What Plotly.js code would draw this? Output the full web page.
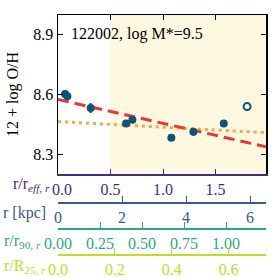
<!DOCTYPE html>
<html><head><meta charset="utf-8">
<script src="https://cdn.plot.ly/plotly-3.0.1.min.js"></script>
<style>html,body{margin:0;padding:0;background:#fff}</style>
</head><body><div id="g" style="width:277px;height:277px"></div>
<script>
// data
const rReff = [0.067, 0.089, 0.311, 0.648, 0.708, 1.079, 1.289, 1.578];
const logOH = [8.603, 8.591, 8.532, 8.454, 8.473, 8.383, 8.412, 8.454];
const logOHerr = [0.010, 0.010, 0.025, 0.010, 0.015, 0.010, 0.020, 0.010];
const openReff = [1.80];
const openOH = [8.539];
const fitX = [0, 1.98];
const fitRed = [8.575, 8.337];
const fitOrange = [8.464, 8.408];
const shadeStart = 0.5;
const titleText = "122002, log M*=9.5";
const effTicks = [0, 0.5, 1.0, 1.5];
const effTickText = ["\u20020.0", "0.5", "1.0", "1.5"];

const F = "Liberation Serif";
const cEff = "#472c7e", cKpc = "#3b5a8a", c90 = "#2aa882", c25 = "#bfdc2c";
const ptCol = "#0d5378";

const traces = [
  {x: fitX, y: fitOrange, mode: "lines", line: {color: "#f9a64a", width: 3, dash: "3px,4px"}, hoverinfo: "skip"},
  {x: fitX, y: fitRed, mode: "lines", line: {color: "#e8382f", width: 3, dash: "11px,6px"}, hoverinfo: "skip"},
  {x: rReff, y: logOH, mode: "markers", marker: {color: ptCol, size: 8},
   error_y: {type: "data", array: logOHerr, color: ptCol, thickness: 2, width: 0}},
  {x: openReff, y: openOH, mode: "markers", marker: {color: "rgba(0,0,0,0)", size: 7, line: {color: ptCol, width: 2}}}
];
// empty traces so that the secondary axes are created
["x2", "x3", "x4", "x5"].forEach(ax => traces.push({x: [], y: [], xaxis: ax, yaxis: "y", mode: "markers", hoverinfo: "skip"}));

const H = 277, T = 15, B = 0;
const ph = H - T - B;
const pos = py => (H - B - py) / ph;

const baseX = {showgrid: false, zeroline: false, showline: true, ticks: "inside", ticklen: 5, tickwidth: 1,
  tickfont: {family: F, size: 16}, fixedrange: true};

const layout = {
  width: 277, height: 277, margin: {l: 58, r: 11, t: T, b: B}, showlegend: false,
  paper_bgcolor: "#fff", plot_bgcolor: "#fff",
  font: {family: F, size: 16, color: "#000"},
  xaxis: Object.assign({}, baseX, {range: [0, 1.98], tickmode: "array", tickvals: effTicks, ticktext: effTickText,
    linecolor: cEff, linewidth: 1.5, tickcolor: cEff, tickfont: {family: F, size: 16, color: cEff}, anchor: "y"}),
  xaxis5: Object.assign({}, baseX, {range: [0, 1.98], dtick: 0.5, tick0: 0, overlaying: "x", side: "top", anchor: "y",
    linecolor: "#000", linewidth: 1.5, tickcolor: "#000", showticklabels: false}),
  xaxis2: Object.assign({}, baseX, {range: [0, 6.5], dtick: 2, tick0: 0, overlaying: "x", anchor: "free", position: pos(202),
    linecolor: cKpc, linewidth: 1.5, tickcolor: cKpc, ticklen: 6, tickfont: {family: F, size: 16, color: cKpc}}),
  xaxis3: Object.assign({}, baseX, {range: [0, 1.238], dtick: 0.25, tick0: 0, tickformat: ".2f", overlaying: "x", anchor: "free", position: pos(228),
    linecolor: c90, linewidth: 1.5, tickcolor: c90, ticklen: 6, tickfont: {family: F, size: 16, color: c90}}),
  xaxis4: Object.assign({}, baseX, {range: [0, 0.731], dtick: 0.2, tick0: 0, tickformat: ".1f", overlaying: "x", anchor: "free", position: pos(254),
    linecolor: c25, linewidth: 1.5, tickcolor: c25, ticklen: 6, tickfont: {family: F, size: 16, color: c25}}),
  yaxis: {domain: [pos(174), 1], range: [8.2, 9.0], dtick: 0.3, tick0: 8.3, tickformat: ".1f",
    showgrid: false, zeroline: false, showline: true, mirror: "ticks", linecolor: "#000", linewidth: 1.5,
    ticks: "inside", ticklen: 5, tickcolor: "#000", tickfont: {family: F, size: 16, color: "#000"}, fixedrange: true},
  shapes: [
    {type: "rect", xref: "x", yref: "y", x0: shadeStart, x1: 2.5, y0: 8.2, y1: 9.0, fillcolor: "#fef8e0", line: {width: 0}, layer: "below"}
  ],
  annotations: [
    {text: titleText, xref: "paper", yref: "paper", x: 11/208, y: pos(34), xanchor: "left", yanchor: "middle", showarrow: false,
     font: {family: F, size: 16, color: "#000"}},
    {text: "12 + log O/H", xref: "paper", yref: "paper", x: (13-58)/208, y: pos(95), xanchor: "center", yanchor: "middle",
     textangle: -90, showarrow: false, font: {family: F, size: 16, color: "#000"}},
    {text: "r/r<sub><i>eff, r</i></sub>", xref: "paper", yref: "paper", x: 0, xshift: -6, y: pos(184), xanchor: "right", yanchor: "middle",
     showarrow: false, font: {family: F, size: 16, color: cEff}},
    {text: "r [kpc]", xref: "paper", yref: "paper", x: 0, xshift: -10, y: pos(213), xanchor: "right", yanchor: "middle",
     showarrow: false, font: {family: F, size: 16, color: cKpc}},
    {text: "r/r<sub>90, <i>r</i></sub>", xref: "paper", yref: "paper", x: 0, xshift: -15, y: pos(241), xanchor: "right", yanchor: "middle",
     showarrow: false, font: {family: F, size: 16, color: c90}},
    {text: "r/R<sub>25, <i>r</i></sub>", xref: "paper", yref: "paper", x: 0, xshift: -10, y: pos(266), xanchor: "right", yanchor: "middle",
     showarrow: false, font: {family: F, size: 16, color: c25}}
  ]
};

Plotly.newPlot("g", traces, layout, {staticPlot: true, displayModeBar: false});
</script></body></html>
